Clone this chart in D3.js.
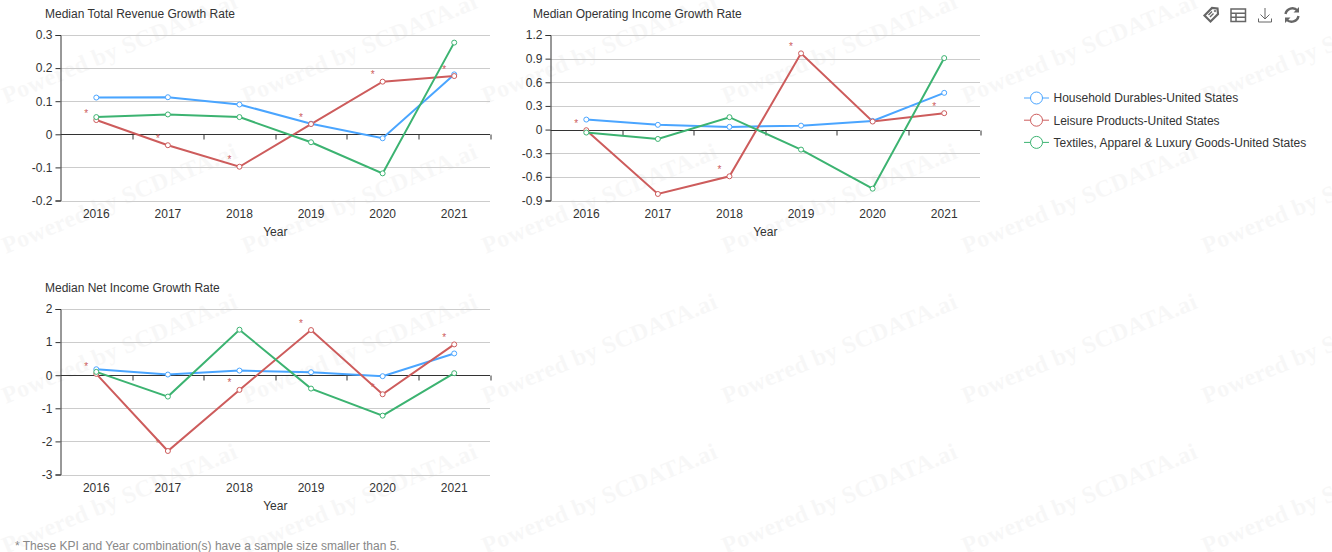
<!DOCTYPE html>
<html>
<head>
<meta charset="utf-8">
<script src="https://cdn.jsdelivr.net/npm/d3@7"></script>
<style>
	html, body { margin: 0; padding: 0; background: #fff; }
	svg { display: block; }
	text { font-family: "Liberation Sans", Arial, sans-serif; }
</style>
</head>
<body>
<div id="canvas"></div>
<script>
const years = ['2016', '2017', '2018', '2019', '2020', '2021'];
const seriesNames = ['Household Durables-United States', 'Leisure Products-United States', 'Textiles, Apparel & Luxury Goods-United States'];
const seriesColors = ['#4aa5ff', '#cd5c5c', '#3cb371'];

const revenueTitle = 'Median Total Revenue Growth Rate';
const revenueTicks = [-0.2, -0.1, 0, 0.1, 0.2, 0.3];
const revenueHousehold = [0.111, 0.112, 0.09, 0.032, -0.012, 0.181];
const revenueLeisure = [0.043, -0.033, -0.098, 0.031, 0.159, 0.176];
const revenueTextiles = [0.052, 0.06, 0.052, -0.024, -0.118, 0.277];
const revenueStars = ['2016', '2017', '2018', '2019', '2020', '2021'];

const operatingTitle = 'Median Operating Income Growth Rate';
const operatingTicks = [-0.9, -0.6, -0.3, 0, 0.3, 0.6, 0.9, 1.2];
const operatingHousehold = [0.127, 0.06, 0.034, 0.05, 0.11, 0.466];
const operatingLeisure = [-0.008, -0.817, -0.593, 0.967, 0.102, 0.208];
const operatingTextiles = [-0.038, -0.119, 0.157, -0.254, -0.75, 0.907];
const operatingStars = ['2016', '2018', '2019', '2021'];

const netTitle = 'Median Net Income Growth Rate';
const netTicks = [-3, -2, -1, 0, 1, 2];
const netHousehold = [0.18, 0.02, 0.14, 0.09, -0.03, 0.657];
const netLeisure = [0.04, -2.29, -0.444, 1.364, -0.576, 0.93];
const netTextiles = [0.1, -0.646, 1.374, -0.404, -1.222, 0.06];
const netStars = ['2016', '2017', '2018', '2019', '2020', '2021'];

const W = 1332, H = 552;
const svg = d3.select('#canvas').append('svg').attr('width', W).attr('height', H);

// watermark tiles
const wm = svg.append('g').attr('class', 'watermark');
d3.range(0, W, 240).forEach(function(x){
	d3.range(0, H, 150).forEach(function(y){
		wm.append('text')
			.attr('transform', 'translate(' + (x + 6) + ',' + (y + 104) + ') rotate(-22.5)')
			.style('font-family', '"Liberation Serif", serif')
			.style('font-weight', 'bold')
			.style('font-size', '24px')
			.style('letter-spacing', '0.3px')
			.style('fill', '#000')
			.style('opacity', 0.028)
			.text('Powered by SCDATA.ai');
	});
});

function smallChart(left, top, title, titleX, ticks, values, stars){
	const w = 429.5, h = 165.5;
	const g = svg.append('g').attr('transform', 'translate(' + left + ',' + top + ')');
	const x = d3.scaleBand().domain(years).range([0, w]);
	const y = d3.scaleLinear().domain(d3.extent(ticks)).range([h, 0]);

	g.append('text').attr('x', titleX).attr('y', -17).style('font-size', '12px').style('fill', '#333').text(title);

	// grid
	g.selectAll('.grid').data(ticks.filter(function(d){ return d !== 0; })).enter().append('line')
		.attr('class', 'grid')
		.attr('x1', 0).attr('x2', w)
		.attr('y1', function(d){ return Math.round(y(d)) + 0.5; })
		.attr('y2', function(d){ return Math.round(y(d)) + 0.5; })
		.style('stroke', '#ccc');

	// left axis
	const yAxis = g.append('g').call(d3.axisLeft(y).tickValues(ticks).tickSize(5).tickPadding(3)
		.tickFormat(function(d){ return String(+d.toFixed(1)); }));
	yAxis.selectAll('text').style('font-size', '12px').style('fill', '#333').style('font-family', '"Liberation Sans", Arial, sans-serif');
	yAxis.selectAll('line, path').style('stroke', '#333');

	// year labels sit at the bottom, axis line stays on zero
	const xLabels = g.append('g').attr('transform', 'translate(0,' + h + ')').call(d3.axisBottom(x).tickSize(0).tickPadding(9));
	xLabels.select('.domain').remove();
	xLabels.selectAll('text').style('font-size', '12px').style('fill', '#333').style('font-family', '"Liberation Sans", Arial, sans-serif');

	const zero = Math.round(y(0)) + 0.5;
	g.append('line').attr('x1', 0).attr('x2', w).attr('y1', zero).attr('y2', zero).style('stroke', '#333');
	g.selectAll('.edge').data(d3.range(1, years.length + 1)).enter().append('line')
		.attr('class', 'edge')
		.attr('x1', function(d){ return Math.round(d * x.step()) + 0.5; })
		.attr('x2', function(d){ return Math.round(d * x.step()) + 0.5; })
		.attr('y1', zero).attr('y2', zero + 5)
		.style('stroke', '#333');

	g.append('text').attr('x', w / 2).attr('y', h + 35).attr('text-anchor', 'middle')
		.style('font-size', '12px').style('fill', '#333').text('Year');

	const line = d3.line()
		.x(function(d, i){ return x(years[i]) + x.bandwidth() / 2; })
		.y(function(d){ return y(d); });

	// stars belong to the leisure series
	g.selectAll('.star').data(stars).enter().append('text')
		.attr('class', 'star')
		.attr('x', function(d){ return x(d) + x.bandwidth() / 2 - 10; })
		.attr('y', function(d){ return y(values[1][years.indexOf(d)]) - 3.5; })
		.attr('text-anchor', 'middle')
		.style('font-size', '10px')
		.style('fill', seriesColors[1])
		.text('*');

	values.forEach(function(vals, k){
		g.append('path').attr('d', line(vals))
			.style('fill', 'none').style('stroke', seriesColors[k]).style('stroke-width', 2);
	});
	values.forEach(function(vals, k){
		g.selectAll('.pt' + k).data(vals).enter().append('circle')
			.attr('class', 'pt' + k)
			.attr('cx', function(d, i){ return x(years[i]) + x.bandwidth() / 2; })
			.attr('cy', function(d){ return y(d); })
			.attr('r', 2.5)
			.style('fill', '#fff').style('stroke', seriesColors[k]).style('stroke-width', 1);
	});
}

smallChart(60.5, 35, revenueTitle, -15.5, revenueTicks, [revenueHousehold, revenueLeisure, revenueTextiles], revenueStars);
smallChart(550.5, 35, operatingTitle, -17.5, operatingTicks, [operatingHousehold, operatingLeisure, operatingTextiles], operatingStars);
smallChart(60.5, 309, netTitle, -15.5, netTicks, [netHousehold, netLeisure, netTextiles], netStars);

// legend
const legend = svg.append('g').selectAll('g').data(seriesNames).enter().append('g')
	.attr('transform', function(d, i){ return 'translate(1024,' + (98 + i * 22.2) + ')'; });
legend.append('line').attr('x1', 0).attr('x2', 25).style('stroke', function(d, i){ return seriesColors[i]; }).style('stroke-width', 1);
legend.append('circle').attr('cx', 12.5).attr('r', 6).style('fill', '#fff').style('stroke', function(d, i){ return seriesColors[i]; }).style('stroke-width', 1);
legend.append('text').attr('x', 29.5).attr('y', 4.3).style('font-size', '12px').style('fill', '#333').text(function(d){ return d; });

// toolbox icons
const tools = svg.append('g').style('fill', 'none').style('stroke', '#666');
tools.append('path').attr('d', 'M1204.5 15.5 L1212 8 L1217.5 8.5 L1218 14 L1210.5 21.5 Z').style('stroke-width', 2.2);
tools.append('circle').attr('cx', 1215).attr('cy', 11).attr('r', 0.8).style('stroke-width', 1);
tools.append('path').attr('d', 'M1208.5 15 L1212 11.5 M1210 17 L1213.5 13.5').style('stroke-width', 1.4);
tools.append('path').attr('d', 'M1231 9 H1245.5 V21.5 H1231 Z M1231 13.2 H1245.5 M1231 17.3 H1245.5 M1236 13 V21.5').style('stroke-width', 1.5);
tools.append('path').attr('d', 'M1265 8 V18.5 M1260.5 14.5 L1265 19 L1269.5 14.5 M1258.5 18.5 V22 H1271.5 V18.5').style('stroke-width', 1);
tools.append('path').attr('d', 'M1285.5 14 A7 7 0 0 1 1297.5 10.5 M1298.5 16 A7 7 0 0 1 1286.5 19.5').style('stroke-width', 2.4);
tools.append('path').attr('d', 'M1299 7 V12.5 H1293.5 Z M1285 23 V17.5 H1290.5 Z').style('fill', '#666').style('stroke', 'none');

svg.append('text').attr('x', 15).attr('y', 549.5).style('font-size', '12px').style('fill', '#888')
	.text('* These KPI and Year combination(s) have a sample size smaller than 5.');
</script>
</body>
</html>
